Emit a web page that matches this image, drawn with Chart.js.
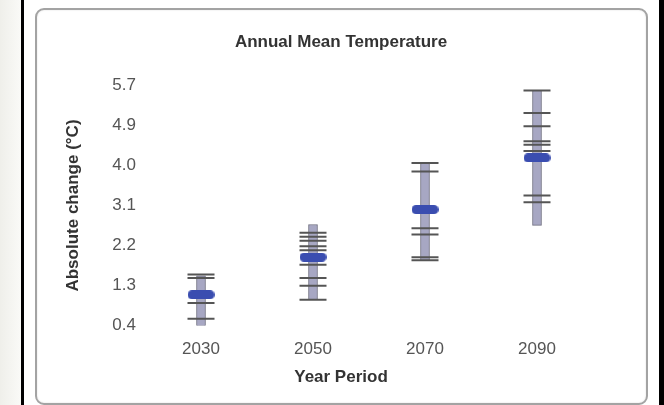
<!DOCTYPE html>
<html>
<head>
<meta charset="utf-8">
<script src="https://cdn.jsdelivr.net/npm/chart.js@4.4.1/dist/chart.umd.min.js"></script>
<style>
  body { margin: 0; width: 664px; height: 405px; overflow: hidden; background: #fff; position: relative; }
  .strip { position: absolute; left: 0; top: 0; width: 21px; height: 405px; background: linear-gradient(to right, #efefea, #fafaf7); }
  .bar-l { position: absolute; left: 21px; top: 0; width: 3px; height: 405px; background: #000; }
  .bar-r { position: absolute; left: 659px; top: 0; width: 5px; height: 405px; background: #000; }
  .box { position: absolute; left: 35px; top: 8px; width: 613px; height: 397px; box-sizing: border-box;
         border: 2px solid #a3a3a3; border-radius: 9px; box-shadow: inset 0 0 2px #ddd; }
  #wrap { position: absolute; left: 0; top: 0; width: 664px; height: 405px; }
</style>
</head>
<body>
<div class="strip"></div>
<div class="bar-l"></div>
<div class="bar-r"></div>
<div class="box"></div>
<div id="wrap"><canvas id="myChart"></canvas></div>
<script>
// data
const years = ['2030', '2050', '2070', '2090'];
const rangeLow = [0.38, 0.97, 1.83, 2.61];
const rangeHigh = [1.50, 2.63, 3.98, 5.59];
const meanValues = [1.08, 1.91, 2.96, 4.10];
const models2030 = [1.53, 1.45, 0.90, 0.55];
const models2050 = [2.45, 2.36, 2.27, 2.15, 2.06, 1.74, 1.45, 1.28, 0.97];
const models2070 = [3.99, 3.80, 2.55, 2.41, 1.91, 1.84];
const models2090 = [5.59, 5.09, 4.80, 4.47, 4.39, 4.25, 3.27, 3.12];
const yTickLabels = ['0.4', '1.3', '2.2', '3.1', '4.0', '4.9', '5.7'];

const modelPoints = [];
[models2030, models2050, models2070, models2090].forEach((list, i) => {
  list.forEach(v => modelPoints.push({ x: years[i], y: v }));
});

// blue rounded marker for the mean
const pill = document.createElement('canvas');
pill.width = 27;
pill.height = 9;
const pctx = pill.getContext('2d');
pctx.fillStyle = '#3a4db0';
pctx.beginPath();
pctx.roundRect(0, 0, 27, 9, 4.5);
pctx.fill();

const titleFont = { family: 'Liberation Sans, Arial, sans-serif', size: 17, weight: 'bold' };
const tickFont = { family: 'Liberation Sans, Arial, sans-serif', size: 17 };

const chart = new Chart(document.getElementById('myChart'), {
  type: 'bar',
  data: {
    labels: years,
    datasets: [
      {
        type: 'scatter',
        label: 'Mean',
        data: years.map((y, i) => ({ x: y, y: meanValues[i] })),
        pointStyle: pill,
        order: 0,
      },
      {
        type: 'scatter',
        label: 'Models',
        data: modelPoints,
        pointStyle: 'line',
        pointRadius: 13.5,
        borderColor: '#555',
        borderWidth: 2,
        order: 1,
      },
      {
        label: 'Range',
        data: years.map((y, i) => [rangeLow[i], rangeHigh[i]]),
        backgroundColor: '#a7a7c3',
        borderColor: '#6d6d7e',
        borderWidth: 1,
        borderSkipped: false,
        barThickness: 9,
        order: 2,
      },
    ],
  },
  options: {
    responsive: true,
    maintainAspectRatio: false,
    animation: false,
    layout: { padding: { left: 35, right: 17, top: 10, bottom: 10 } },
    plugins: {
      legend: { display: false },
      tooltip: { enabled: false },
      title: {
        display: true,
        text: 'Annual Mean Temperature',
        font: titleFont,
        color: '#333',
        padding: { top: 22, bottom: 33 },
      },
      subtitle: {
        display: true,
        position: 'bottom',
        text: 'Year Period',
        font: titleFont,
        color: '#333',
        padding: { top: 2, bottom: 7 },
      },
    },
    scales: {
      x: {
        grid: { display: false },
        border: { display: false },
        ticks: { font: tickFont, color: '#555', padding: 6 },
        afterFit(s) { s.height = 40; },
      },
      y: {
        min: 0.4,
        max: 5.7,
        grid: { display: false },
        border: { display: false },
        afterBuildTicks(s) {
          const n = yTickLabels.length - 1;
          s.ticks = yTickLabels.map((t, i) => ({ value: s.min + i * (s.max - s.min) / n }));
        },
        ticks: {
          font: tickFont,
          color: '#555',
          padding: 1,
          callback: (v, i) => yTickLabels[i],
        },
        title: {
          display: true,
          text: 'Absolute change (°C)',
          font: titleFont,
          color: '#333',
          padding: { top: 28, bottom: 0 },
        },
        afterFit(s) { s.width = 110; },
      },
      yR: {
        position: 'right',
        grid: { display: false },
        border: { display: false },
        ticks: { display: false },
        afterFit(s) { s.width = 54; },
      },
    },
  },
});
</script>
</body>
</html>
